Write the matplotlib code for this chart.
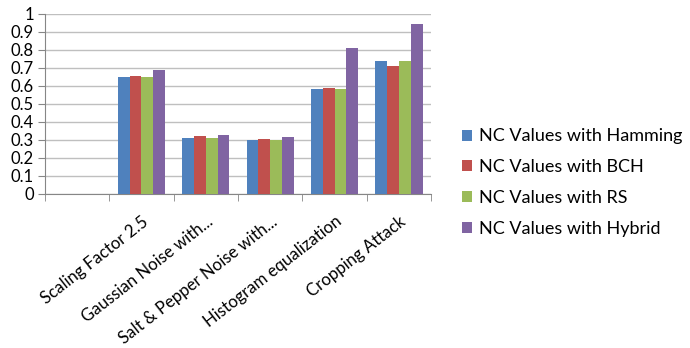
import numpy as np
import matplotlib
matplotlib.use("Agg")
import matplotlib.pyplot as plt

plt.rcParams["font.family"] = ["Lato", "DejaVu Sans"]

categories = ["", "Scaling Factor 2.5", "Gaussian Noise with...",
              "Salt & Pepper Noise with...", "Histogram equalization",
              "Cropping Attack"]
hamming = [np.nan, 0.648, 0.313, 0.298, 0.583, 0.739]
bch = [np.nan, 0.657, 0.322, 0.304, 0.589, 0.713]
rs = [np.nan, 0.648, 0.313, 0.298, 0.583, 0.739]
hybrid = [np.nan, 0.689, 0.326, 0.318, 0.813, 0.946]
series_names = ["NC Values with Hamming", "NC Values with BCH",
                "NC Values with RS", "NC Values with Hybrid"]
colors = ["#4F81BD", "#C0504D", "#9BBB59", "#8064A2"]

fig = plt.figure(figsize=(6.9, 3.48), dpi=100)
ax = fig.add_axes([0.065, 0.443, 0.56, 0.517])

x = np.arange(len(categories))
w = 0.183
for i, (vals, name, c) in enumerate(zip([hamming, bch, rs, hybrid], series_names, colors)):
    ax.bar(x + (i - 1.5) * w, vals, width=w, color=c, label=name, zorder=3)

ax.set_xlim(-0.5, len(categories) - 0.5)
ax.set_ylim(0, 1)
ax.set_yticks(np.arange(0, 1.01, 0.1))
ax.set_yticklabels(["0"] + [f"{v:.1f}" for v in np.arange(0.1, 0.95, 0.1)] + ["1"])
ax.yaxis.grid(True, color="#BFBFBF", linewidth=1, zorder=0)

ax.set_xticks(x)
ax.set_xticklabels(categories, rotation=38, ha="right", rotation_mode="anchor", fontsize=12.1)
ax.set_xticks(np.arange(-0.5, len(categories)), minor=True)
ax.tick_params(axis="x", which="major", length=0, pad=14)
ax.tick_params(axis="x", which="minor", length=5, color="#868686", direction="out")
ax.tick_params(axis="y", length=5, color="#868686", labelsize=12, pad=3)

for s in ["top", "right"]:
    ax.spines[s].set_visible(False)
for s in ["left", "bottom"]:
    ax.spines[s].set_color("#868686")

fig.legend(loc="center left", bbox_to_anchor=(0.669, 0.475), frameon=False,
           fontsize=13, handlelength=0.55, handleheight=0.55, handletextpad=0.4,
           labelspacing=0.82, borderpad=0, borderaxespad=0)

fig.savefig("out.png", dpi=100)
